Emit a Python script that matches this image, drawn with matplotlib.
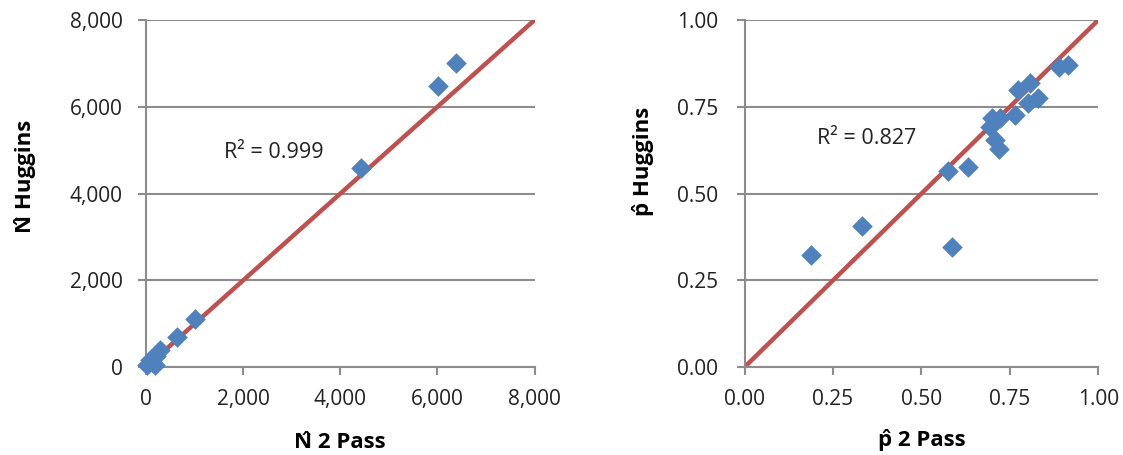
import matplotlib
matplotlib.use("Agg")
import matplotlib.pyplot as plt
from matplotlib.ticker import FuncFormatter

# left panel: N-hat estimates
n_2pass = [6380, 6020, 4420, 1000, 640, 290, 200, 90, 20, 180, 120]
n_huggins = [7000, 6470, 4580, 1120, 700, 390, 250, 160, 40, 60, 120]

# right panel: p-hat estimates
p_2pass = [0.187, 0.331, 0.587, 0.575, 0.632, 0.720, 0.708, 0.694, 0.700, 0.722,
           0.765, 0.773, 0.807, 0.830, 0.802, 0.890, 0.915]
p_huggins = [0.323, 0.406, 0.346, 0.565, 0.576, 0.628, 0.654, 0.692, 0.718, 0.718,
             0.726, 0.798, 0.818, 0.775, 0.761, 0.865, 0.870]

n_ticks = [0, 2000, 4000, 6000, 8000]
p_ticks = [0.0, 0.25, 0.5, 0.75, 1.0]

blue = "#4F81BD"
red = "#C0504D"
grid = "#8C8C8C"
txt = "#222222"

plt.rcParams['font.family'] = ['Open Sans', 'DejaVu Sans']

fig = plt.figure(figsize=(11.23, 4.55), dpi=100)
ax1 = fig.add_axes([0.130, 0.193, 0.346, 0.763])
ax2 = fig.add_axes([0.663, 0.193, 0.315, 0.763])


def style(ax, ticks, fmt, ypad):
    ax.set_xlim(ticks[0], ticks[-1])
    ax.set_ylim(ticks[0], ticks[-1])
    ax.set_xticks(ticks)
    ax.set_yticks(ticks)
    ax.xaxis.set_major_formatter(FuncFormatter(fmt))
    ax.yaxis.set_major_formatter(FuncFormatter(fmt))
    for s in ["top", "right"]:
        ax.spines[s].set_visible(False)
    for s in ["left", "bottom"]:
        ax.spines[s].set_color(grid)
        ax.spines[s].set_linewidth(1.5)
    ax.yaxis.grid(True, color=grid, linewidth=1.5)
    ax.set_axisbelow(True)
    ax.tick_params(direction="out", length=6, width=1.5, color=grid,
                   labelsize=15, labelcolor=txt)
    ax.tick_params(axis="x", pad=10)
    ax.tick_params(axis="y", pad=ypad)
    for lab in ax.get_xticklabels() + ax.get_yticklabels():
        lab.set_clip_on(False)


ax1.plot(n_ticks[::4], n_ticks[::4], color=red, linewidth=3.2, zorder=2)
ax1.scatter(n_2pass, n_huggins, marker="D", s=110, color=blue, zorder=3,
            clip_on=False, linewidths=0)
style(ax1, n_ticks, lambda v, p: f"{int(v):,}", 11)
ax1.text(1600, 4950, "R² = 0.999", fontsize=15.5, va="center", color=txt)
ax1.set_xlabel("N\u0302 2 Pass", fontsize=16, fontweight="bold", va="center")
ax1.set_ylabel("N\u0302 Huggins", fontsize=16, fontweight="bold", va="center", ha="center")
ax1.xaxis.set_label_coords(0.5, -0.216)
ax1.yaxis.set_label_coords(-0.311, 0.55)

ax2.plot(p_ticks[::4], p_ticks[::4], color=red, linewidth=3.2, zorder=2)
ax2.scatter(p_2pass, p_huggins, marker="D", s=110, color=blue, zorder=3,
            clip_on=False, linewidths=0)
style(ax2, p_ticks, lambda v, p: f"{v:.2f}", 13)
ax2.text(0.205, 0.66, "R² = 0.827", fontsize=15.5, va="center", color=txt)
ax2.set_xlabel("p\u0302 2 Pass", fontsize=16, fontweight="bold", va="center")
ax2.set_ylabel("p\u0302 Huggins", fontsize=16, fontweight="bold", va="center", ha="center")
ax2.xaxis.set_label_coords(0.5, -0.21)
ax2.yaxis.set_label_coords(-0.286, 0.594)

fig.savefig("out.png", dpi=100)
